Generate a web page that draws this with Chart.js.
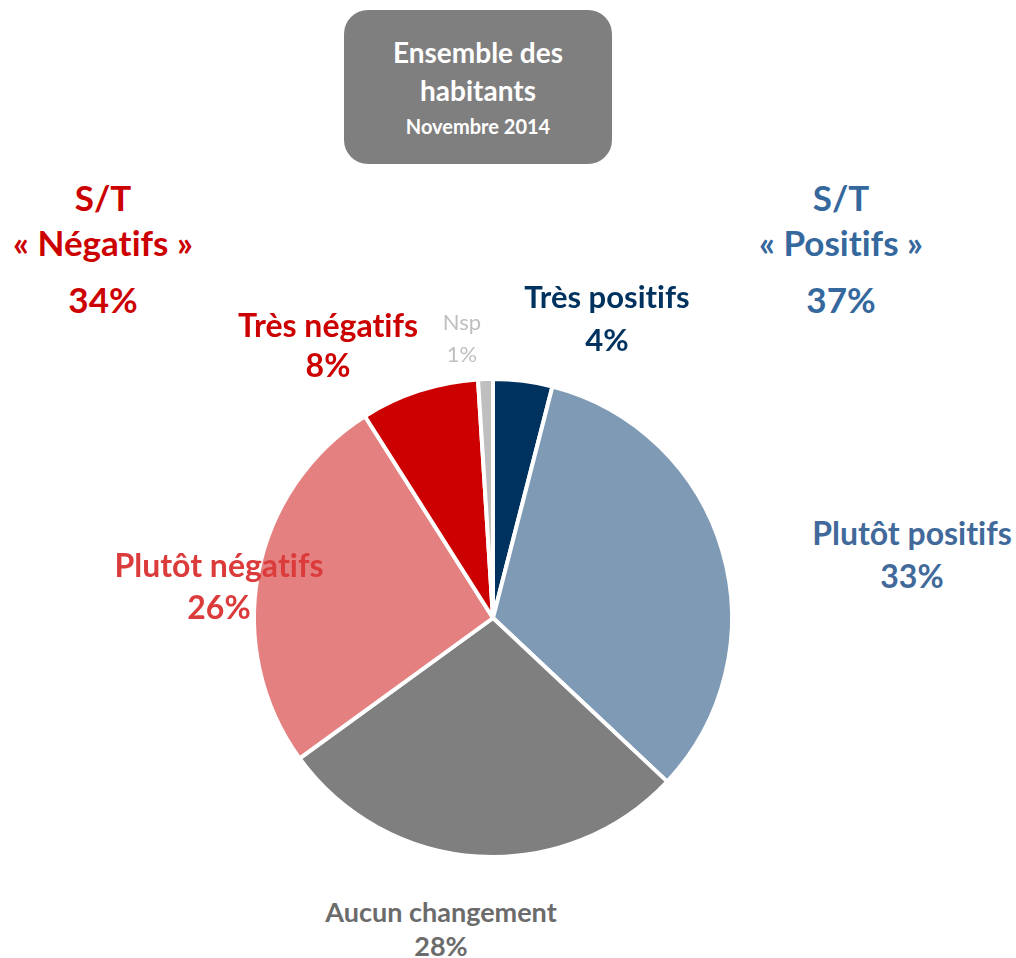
<!DOCTYPE html>
<html>
<head>
<meta charset="utf-8">
<script src="https://cdn.jsdelivr.net/npm/chart.js@4/dist/chart.umd.min.js"></script>
<style>
  html, body { margin: 0; padding: 0; background: #fff; }
  body { width: 1016px; height: 958px; position: relative; overflow: hidden; font-family: Lato, "Open Sans", sans-serif; font-weight: 700; font-variant-ligatures: none; }
  #pie { position: absolute; left: 233px; top: 358px; z-index: 1; }
  .lbl { position: absolute; text-align: center; white-space: nowrap; z-index: 2; }
  #titlebox { position: absolute; left: 344px; top: 10px; width: 268px; height: 154px; background: #7F7F7F; border-radius: 24px; color: #fff; text-align: center; z-index: 2; }
  #titlebox .t1 { font-size: 28px; line-height: 38px; padding-top: 23px; }
  #titlebox .t2 { font-size: 20px; line-height: 30px; padding-top: 2px; }
  .st { position: absolute; width: 260px; text-align: center; font-size: 35px; line-height: 45px; z-index: 2; }
  .st .pct { margin-top: 12px; }
</style>
</head>
<body>
<div id="titlebox"><div class="t1">Ensemble des<br>habitants</div><div class="t2">Novembre 2014</div></div>
<div class="st" id="stNeg" style="left:-27px; top:175px; color:#CC0000;"></div>
<div class="st" id="stPos" style="left:711px; top:175px; color:#35689D;"></div>
<canvas id="pie" width="520" height="520"></canvas>
<script>
// ---- data ----
const categories = ['Très positifs', 'Plutôt positifs', 'Aucun changement', 'Plutôt négatifs', 'Très négatifs', 'Nsp'];
const values = [4, 33, 28, 26, 8, 1];
const sliceColors = ['#00325F', '#7F9AB5', '#7F7F7F', '#E48080', '#CC0000', '#BFBFBF'];
const subtotalLabels = ['S/T', '« Négatifs »', '« Positifs »'];
const subtotalNeg = 34;
const subtotalPos = 37;

// ---- label layout (text positions) ----
const labelStyle = [
  { cx: 607, top: 275, lh: 43, size: 31, color: '#00325F', weight: 700 },
  { cx: 912, top: 511, lh: 43, size: 32, color: '#41699A', weight: 700 },
  { cx: 441, top: 895, lh: 34, size: 27, color: '#6B6B6B', weight: 700 },
  { cx: 219, top: 544, lh: 42, size: 32, color: '#DB3B3B', weight: 700 },
  { cx: 328, top: 305, lh: 40, size: 32, color: '#CC0000', weight: 700 },
  { cx: 462, top: 306, lh: 32, size: 22, color: '#BFBFBF', weight: 400 }
];

categories.forEach((c, i) => {
  const s = labelStyle[i];
  const d = document.createElement('div');
  d.className = 'lbl';
  d.style.left = (s.cx - 150) + 'px';
  d.style.width = '300px';
  d.style.top = s.top + 'px';
  d.style.fontSize = s.size + 'px';
  d.style.lineHeight = s.lh + 'px';
  d.style.color = s.color;
  d.style.fontWeight = s.weight;
  d.innerHTML = c + '<br>' + values[i] + '%';
  document.body.appendChild(d);
});

document.getElementById('stNeg').innerHTML = subtotalLabels[0] + '<br>' + subtotalLabels[1] + '<div class="pct">' + subtotalNeg + '%</div>';
document.getElementById('stPos').innerHTML = subtotalLabels[0] + '<br>' + subtotalLabels[2] + '<div class="pct">' + subtotalPos + '%</div>';

new Chart(document.getElementById('pie'), {
  type: 'pie',
  data: {
    labels: categories,
    datasets: [{
      data: values,
      backgroundColor: sliceColors,
      borderColor: '#FFFFFF',
      borderWidth: 4
    }]
  },
  options: {
    responsive: false,
    animation: false,
    radius: 239,
    layout: { padding: 0 },
    plugins: { legend: { display: false }, tooltip: { enabled: false } }
  }
});
</script>
</body>
</html>
